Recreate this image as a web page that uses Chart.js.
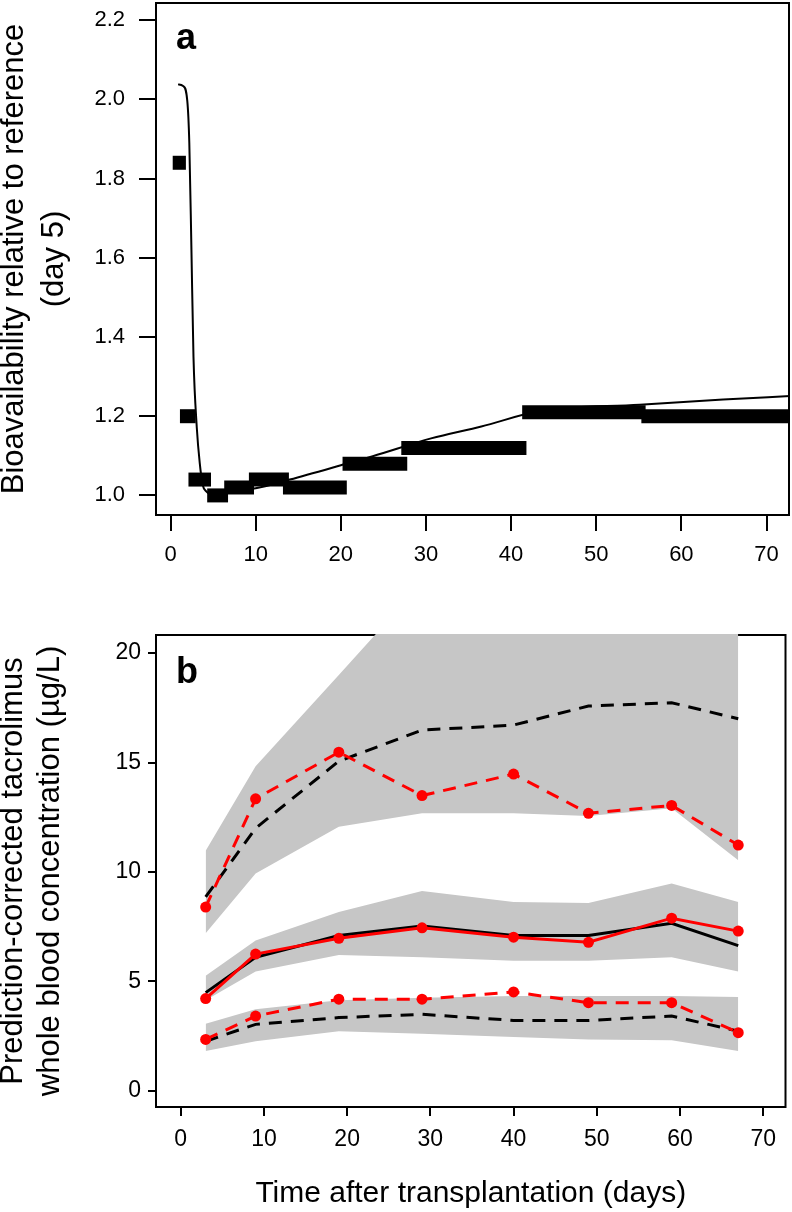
<!DOCTYPE html>
<html lang="en">
<head>
<meta charset="UTF-8">
<title>Tacrolimus bioavailability and prediction-corrected VPC</title>
<script src="https://cdn.jsdelivr.net/npm/chart.js"></script>
<style>
  body { margin: 0; background: #fff; }
  canvas { position: absolute; left: 0; }
</style>
</head>
<body>
<canvas id="chartA" style="top:0" width="792" height="580"></canvas>
<canvas id="chartB" style="top:580px" width="792" height="632"></canvas>
<script>
// ---- panel a: relative bioavailability ----
const barStart = [0.25, 1.1, 2.1, 4.3, 6.3, 9.2, 13.2, 20.2, 27.1, 41.3, 55.3];
const barEnd   = [1.8, 2.95, 4.75, 6.75, 9.8, 13.9, 20.7, 27.8, 41.8, 55.8, 75];
const barValue = [1.84, 1.20, 1.04, 1.00, 1.02, 1.04, 1.02, 1.08, 1.12, 1.21, 1.20];
const curveDay   = [0.88, 1.47, 1.96, 2.2, 2.45, 2.69, 3.08, 3.43, 3.77, 4.16, 4.65, 6.1, 10, 14, 20.8, 23.75, 30.6, 36.5, 43.4, 55.1, 64.9, 72.8];
const curveValue = [2.038, 2.034, 1.997, 1.89, 1.62, 1.35, 1.171, 1.081, 1.027, 1.011, 1.004, 1.007, 1.018, 1.04, 1.081, 1.099, 1.144, 1.174, 1.213, 1.229, 1.242, 1.251];
const xTicksA = [0, 10, 20, 30, 40, 50, 60, 70];
const yTicksA = [1.0, 1.2, 1.4, 1.6, 1.8, 2.0, 2.2];

// ---- panel b: prediction-corrected VPC ----
const days    = [3, 9, 19, 29, 40, 49, 59, 67];
const obsP95  = [8.4, 13.34, 15.47, 13.49, 14.47, 12.68, 13.04, 11.23];
const obsP50  = [4.22, 6.25, 6.97, 7.45, 7.02, 6.79, 7.89, 7.30];
const obsP5   = [2.35, 3.42, 4.19, 4.19, 4.52, 4.03, 4.03, 2.66];
const predP95 = [8.86, 12.0, 15.06, 16.48, 16.71, 17.58, 17.73, 17.0];
const predP50 = [4.49, 6.10, 7.10, 7.53, 7.10, 7.10, 7.66, 6.64];
const predP5  = [2.27, 3.04, 3.35, 3.50, 3.22, 3.22, 3.42, 2.73];
const ciP95Lo = [7.2, 9.93, 12.07, 12.68, 12.68, 12.56, 12.91, 10.54];
const ciP95Hi = [10.97, 14.83, 19.0, 23.2, 24, 24.5, 25, 25];
const ciP50Lo = [4.14, 5.46, 6.21, 6.10, 5.95, 5.95, 6.10, 5.46];
const ciP50Hi = [5.26, 6.87, 8.17, 9.13, 8.63, 8.58, 9.47, 8.63];
const ciP5Lo  = [1.82, 2.27, 2.73, 2.61, 2.46, 2.35, 2.31, 1.82];
const ciP5Hi  = [3.07, 3.73, 4.14, 4.26, 4.34, 4.34, 4.34, 4.29];
const xTicksB = [0, 10, 20, 30, 40, 50, 60, 70];
const yTicksB = [0, 5, 10, 15, 20];

Chart.defaults.font.family = '"Liberation Sans", Arial, Helvetica, sans-serif';
Chart.defaults.color = '#000';

function drawFrame(chart) {
    const a = chart.chartArea, ctx = chart.ctx;
    ctx.save();
    ctx.strokeStyle = '#000';
    ctx.lineWidth = 2;
    ctx.strokeRect(a.left + 1, a.top + 1, a.right - a.left - 2, a.bottom - a.top - 2);
    ctx.restore();
}

// box round the plot and the panel letter
const framePlugin = {
    id: 'frame',
    beforeDatasetsDraw(chart, args, opts) {
        if (opts.under) drawFrame(chart);
    },
    afterDatasetsDraw(chart, args, opts) {
        if (!opts.under) drawFrame(chart);
        const a = chart.chartArea, ctx = chart.ctx;
        ctx.save();
        ctx.font = 'bold 36px "Liberation Sans", Arial, sans-serif';
        ctx.fillStyle = '#000';
        ctx.fillText(opts.letter, a.left + 21, a.top + opts.letterY);
        ctx.restore();
    }
};

// fixed-size axis; the label overhang padding is dropped so the plot box stays put
function tickAxis(min, max, ticks, size, tickLength, padding, fit) {
    return {
        type: 'linear', min: min, max: max,
        afterBuildTicks: s => { s.ticks = ticks.map(v => ({ value: v })); },
        afterFit: s => {
            fit(s);
            s.paddingTop = 0; s.paddingBottom = 0;
            s.paddingLeft = 0; s.paddingRight = 0;
        },
        grid: { drawOnChartArea: false, drawTicks: true, tickLength: tickLength, color: '#000', lineWidth: 2 },
        border: { display: false },
        ticks: { font: { size: size }, padding: padding, maxRotation: 0, autoSkip: false }
    };
}

// Panel a
const xA = tickAxis(-1.83, 72.76, xTicksA, 22, 15, 11, s => { s.height = 64; });
const yA = tickAxis(0.948, 2.246, yTicksA, 22, 16, 14, s => { s.width = 155; });
yA.ticks.callback = v => v.toFixed(1);
yA.title = {
    display: true,
    text: ['Bioavailability relative to reference', '(day 5)'],
    font: { size: 31, lineHeight: 1.3 },
    padding: { top: -6, bottom: 0 }
};

const barSets = barValue.map((v, i) => ({
    data: [{ x: barStart[i], y: v }, { x: barEnd[i], y: v }],
    borderColor: '#000',
    borderWidth: 14,
    borderCapStyle: 'butt',
    pointRadius: 0,
    clip: 0
}));

new Chart(document.getElementById('chartA'), {
    type: 'line',
    data: {
        datasets: barSets.concat([{
            data: curveDay.map((d, i) => ({ x: d, y: curveValue[i] })),
            borderColor: '#000',
            borderWidth: 2,
            pointRadius: 0,
            cubicInterpolationMode: 'monotone',
            clip: 0
        }])
    },
    options: {
        responsive: false,
        animation: false,
        layout: { padding: { top: 2, right: 2, left: 0, bottom: 0 } },
        plugins: {
            legend: { display: false },
            tooltip: { enabled: false },
            frame: { under: false, letter: 'a', letterY: 47 }
        },
        scales: { x: xA, y: yA }
    },
    plugins: [framePlugin]
});

// Panel b
const pts = arr => days.map((d, i) => ({ x: d, y: arr[i] }));
function band(lo, hi) {
    return [
        { data: pts(lo), borderWidth: 0, borderColor: 'rgba(0,0,0,0)', pointRadius: 0, order: 3 },
        { data: pts(hi), borderWidth: 0, borderColor: 'rgba(0,0,0,0)', pointRadius: 0, order: 3,
          fill: '-1', backgroundColor: '#c6c6c6' }
    ];
}
function redLine(arr, dashed) {
    return {
        data: pts(arr), borderColor: '#ff0000', borderWidth: 3, borderDash: dashed ? [13, 9] : [],
        pointRadius: 5.5, pointBackgroundColor: '#ff0000', pointBorderWidth: 0, order: 0
    };
}
function blackLine(arr, dashed) {
    return {
        data: pts(arr), borderColor: '#000', borderWidth: 3, borderDash: dashed ? [13, 9] : [],
        pointRadius: 0, order: 1
    };
}

const xB = tickAxis(-3.09, 72.8, xTicksB, 23, 8, 10, s => { s.height = 104; });
xB.title = {
    display: true,
    text: 'Time after transplantation (days)',
    font: { size: 30, lineHeight: 1.2 },
    padding: { top: 0, bottom: 0 }
};
const yB = tickAxis(-0.78, 20.87, yTicksB, 23, 7, 7, s => { s.width = 155; });
yB.title = {
    display: true,
    text: ['Prediction-corrected tacrolimus', 'whole blood concentration (\u00b5g/L)'],
    font: { size: 31, lineHeight: 1.2 },
    padding: { top: -5, bottom: 0 }
};

new Chart(document.getElementById('chartB'), {
    type: 'line',
    data: {
        datasets: [].concat(
            band(ciP95Lo, ciP95Hi),
            band(ciP50Lo, ciP50Hi),
            band(ciP5Lo, ciP5Hi),
            [blackLine(predP95, true), blackLine(predP50, false), blackLine(predP5, true),
             redLine(obsP95, true), redLine(obsP50, false), redLine(obsP5, true)]
        )
    },
    options: {
        responsive: false,
        animation: false,
        layout: { padding: { top: 54, right: 5, left: 0, bottom: 0 } },
        plugins: {
            legend: { display: false },
            tooltip: { enabled: false },
            frame: { under: true, letter: 'b', letterY: 49 }
        },
        scales: { x: xB, y: yB }
    },
    plugins: [framePlugin]
});
</script>
</body>
</html>
